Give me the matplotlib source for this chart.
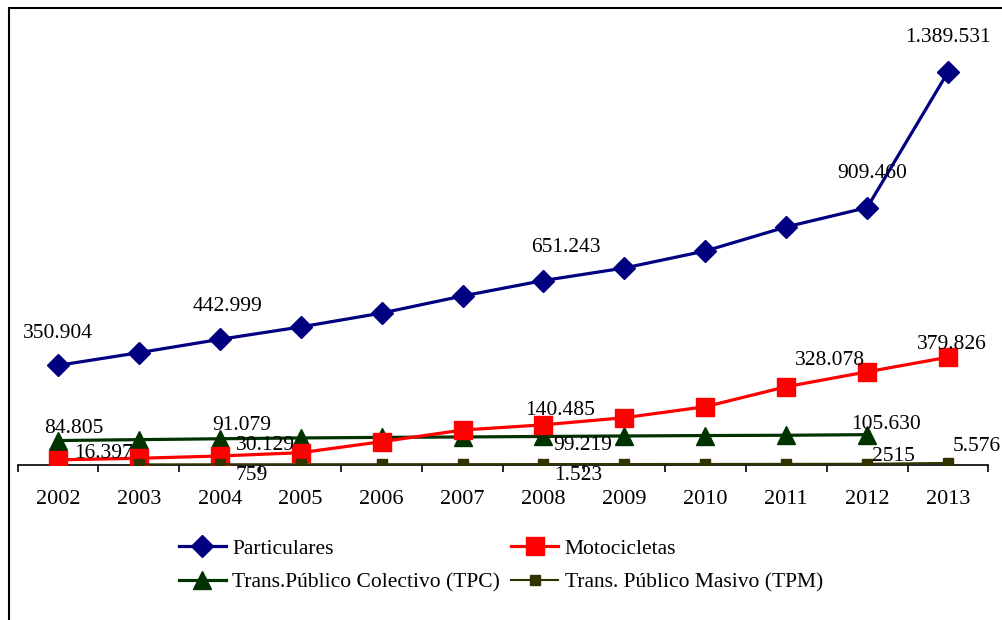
import matplotlib.pyplot as plt
import numpy as np
from matplotlib.patches import Rectangle

years = ["2002", "2003", "2004", "2005", "2006", "2007",
         "2008", "2009", "2010", "2011", "2012", "2013"]

particulares = [350904, 395800, 442999, 487000, 536000, 596500,
                651243, 695600, 755800, 841000, 909460, 1389531]
motocicletas = [16397, 22000, 30129, 41800, 80700, 122000,
                140485, 165700, 204600, 275400, 328078, 379826]
tpc = [84805, 88000, 91079, 94000, 96000, 97500,
       99219, 101000, 102500, 103500, 105630, np.nan]
tpm = [np.nan, 400, 759, 900, 1050, 1250,
       1523, 1700, 1900, 2200, 2515, 5576]

# etiquetas de datos: (serie, indice del año, texto)
data_labels = [
    ("part", 0, "350.904"), ("part", 2, "442.999"), ("part", 6, "651.243"),
    ("part", 10, "909.460"), ("part", 11, "1.389.531"),
    ("moto", 0, "16.397"), ("moto", 2, "30.129"), ("moto", 6, "140.485"),
    ("moto", 10, "328.078"), ("moto", 11, "379.826"),
    ("tpc", 0, "84.805"), ("tpc", 2, "91.079"), ("tpc", 6, "99.219"),
    ("tpc", 10, "105.630"),
    ("tpm", 2, "759"), ("tpm", 6, "1.523"), ("tpm", 10, "2515"),
    ("tpm", 11, "5.576"),
]
# desplazamientos en pixeles (x, y hacia arriba)
label_offsets = [
    (0, 32), (8, 33), (22, 33), (5, 34), (0, 34),
    (46, 6), (46, 10), (17, 14), (-37, 11), (4, 13),
    (16, 12), (22, 13), (39, -9), (19, 10),
    (32, -11), (35, -11), (26, 7), (29, 16),
]

plt.rcParams["font.family"] = ["Liberation Serif", "DejaVu Serif"]

fig = plt.figure(figsize=(10.03, 6.2), dpi=100)
ax = fig.add_axes([17.5 / 1003, 155.5 / 620, 971 / 1003, 444.5 / 620])

x = np.arange(len(years))
series = {
    "part": particulares,
    "moto": motocicletas,
    "tpc": tpc,
    "tpm": tpm,
}

h_part, = ax.plot(x, particulares, color="#000080", lw=2.3, marker="D",
                  ms=11.5, label="Particulares", zorder=4)
h_moto, = ax.plot(x, motocicletas, color="#FF0000", lw=2.3, marker="s",
                  ms=13, label="Motocicletas", zorder=4)
h_tpc, = ax.plot(x, tpc, color="#003300", lw=2.3, marker="^",
                 ms=13, label="Trans.Público Colectivo (TPC)", zorder=3)
h_tpm, = ax.plot(x, tpm, color="#333300", lw=1.5, marker="s",
                 ms=7, label="Trans. Público Masivo (TPM)", zorder=5)

for (key, i, txt), (dx, dy) in zip(data_labels, label_offsets):
    ax.annotate(txt, (x[i], series[key][i]), xytext=(dx, dy),
                textcoords="offset pixels", ha="center", va="center",
                fontsize=15.5, zorder=6)

ax.set_xlim(-0.5, 11.5)
ax.set_ylim(0, 444.5 * 3540)
ax.set_xticks(x)
ax.set_xticklabels(years, fontsize=16)
ax.set_xticks(np.arange(-0.5, 12, 1), minor=True)
ax.tick_params(axis="x", which="major", length=0, pad=18)
ax.tick_params(axis="x", which="minor", length=5, width=1.2, direction="out")
ax.set_yticks([])
for side in ["left", "right", "top"]:
    ax.spines[side].set_visible(False)
ax.spines["bottom"].set_linewidth(1.2)
ax.patch.set_alpha(0)

fig.legend([h_part, h_tpc, h_moto, h_tpm],
           [h.get_label() for h in [h_part, h_tpc, h_moto, h_tpm]],
           loc="upper left", bbox_to_anchor=(170 / 1003, 1 - 530 / 620),
           ncol=2, frameon=False, fontsize=15.5, handlelength=2.2,
           handletextpad=0.3, columnspacing=0.5, labelspacing=0.65,
           borderaxespad=0)

fig.patches.append(Rectangle((9 / 1003, -0.1), 1.2, 1 - 8 / 620 + 0.1,
                             transform=fig.transFigure, fill=False,
                             edgecolor="black", lw=1.5))

fig.savefig("out.png", dpi=100)
